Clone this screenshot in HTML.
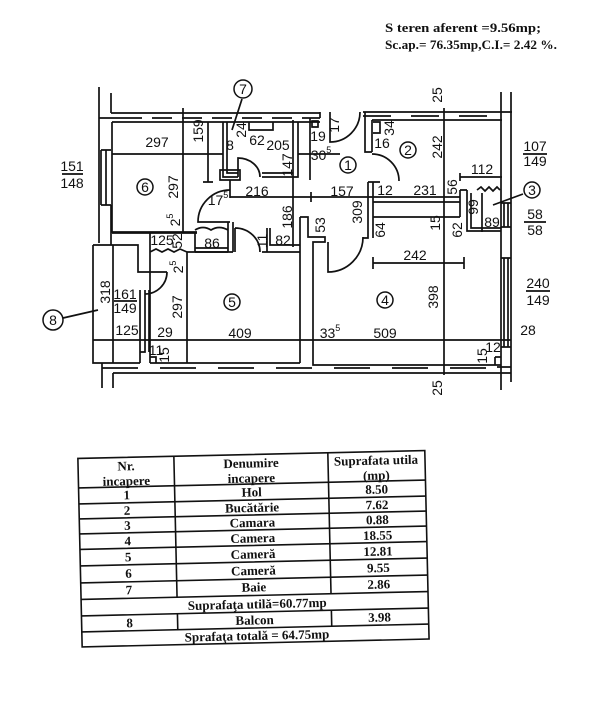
<!DOCTYPE html>
<html><head><meta charset="utf-8">
<style>
html,body{margin:0;padding:0;background:#fff;}
svg{display:block;}
.d{font-family:"Liberation Sans",sans-serif;font-size:14px;text-anchor:middle;dominant-baseline:central;fill:#111;}
.t{font-family:"Liberation Serif",serif;font-weight:bold;font-size:13px;text-anchor:middle;dominant-baseline:central;fill:#111;}
.h{font-family:"Liberation Serif",serif;font-weight:bold;font-size:12.5px;dominant-baseline:central;fill:#111;}
</style></head><body>
<svg width="613" height="720" viewBox="0 0 613 720" xmlns="http://www.w3.org/2000/svg">
<rect width="613" height="720" fill="#fff"/>
<text class="h" x="385" y="28" textLength="156" lengthAdjust="spacingAndGlyphs">S teren aferent =9.56mp;</text>
<text class="h" x="385" y="45" textLength="172" lengthAdjust="spacingAndGlyphs">Sc.ap.= 76.35mp,C.I.= 2.42 %.</text>

<g fill="none" stroke="#111" stroke-width="1.7">
<!-- left / top-left walls -->
<path d="M99,87 V243 M111,93 V113 M111,113 H320 M320,112 V118 M99,118 H122 M112,122 H320"/>
<path d="M122,118 H320" stroke-dasharray="20,10"/>
<path d="M112,122 V232 H197"/>
<path d="M101,150 H111 M101,205 H111 M101,150 V205 M106,150 V205 M111,205 V245"/>
<path d="M183,108 V232 M112,154 H223 M298,154 H340 M208,122 V182 M203,182 H213"/>
<!-- bath -->
<path d="M223,122 V177 H238 M227,122 V173 H238 M262,177 H298 V122 M262,173 H293 M293,120 V247"/>
<path d="M238,177 V158 A22 19 0 0 1 260 177"/>
<path d="M249,122 V130 H273 V122"/>
<path d="M220,170 H240 V180 H220 Z M230,180 V198"/>
<path d="M310,118 V180 M312,121 H318 V127 H312 Z"/>
<!-- entrance door -->
<path d="M330,112 V142 A30 30 0 0 0 360 112"/>
<!-- kitchen -->
<path d="M363,112 H512 M372,120 H502 M365,112 V152 H372 M372,120 V152"/>
<path d="M363,116 H502" stroke-dasharray="28,20"/>
<path d="M372,154 A27 27 0 0 1 399 181"/>
<path d="M368,182 V238 H363 M373,182 V238 M368,182 H380 M373,122 H380 V133 H373"/>
<path d="M230,197 H460 M311,192 V202"/>
<path d="M373,202 H460 M373,217 H460"/>
<!-- pantry -->
<path d="M460,190 V217 M460,190 H467 M477,190 l4,-3 l4,4 l4,-4 l4,4 l4,-4 l3,3 M467,190 V231 H501 M471,193 V228 H501 M482,193 V232 M460,177 H502 M460,173 V181"/>
<!-- right wall -->
<path d="M501,92 V390 M511,92 V382"/>
<path d="M504,203 V227 M508,203 V227 M501,203 H511 M501,227 H511 M504,258 V347 M508,258 V347 M501,258 H511 M501,347 H511"/>
<!-- room 4 -->
<path d="M300,217 H308 V237 H325 V242 H313 V365 H501 M300,217 V363"/>
<path d="M328,242 V272 A35 35 0 0 0 363 237"/>
<path d="M495,357 H501 M495,357 V365"/>
<path d="M373,263 H464 M373,257 V269 M464,257 V269 M444,108 V375"/>
<!-- room 5 / corridor -->
<path d="M112,233 H197 M150,233 V363 M150,252 l6,-3 l6,3 l6,-3 l6,3 l6,-3 l7,3 M187,252 V363 M195,233 V252"/>
<path d="M195,230 q8,-5 16,0 q8,-5 17,0 M195,248 H228 M195,252 H228 M228,222 V252 M233,222 V252"/>
<path d="M230,190 A32 32 0 0 0 198 222 H230"/>
<path d="M235,228 A25 24 0 0 1 260 252 M235,228 V252"/>
<path d="M187,252 H233 M262,252 H300 M267,228 V252 M270,228 V245 H300 M150,363 H300"/>
<!-- balcony -->
<path d="M93,245 H138 V272 H167 M93,245 V363 H140 M113,245 V363"/>
<path d="M167,272 A22 22 0 0 1 145 294"/>
<path d="M140,290 V363 M145,290 V352 H140 M149,290 V352 M150,357 H156 V363"/>
<!-- bottom -->
<path d="M113,373 H511 M102,363 V388 M113,373 V388 M93,340 H511 M497,367 H511"/>
<path d="M102,368 H501" stroke-dasharray="36,22"/>
<!-- fractions -->
<path d="M62,174 H83 M523,154 H547 M524,222 H546 M526,291 H550 M114,301 H137"/>
<!-- leaders -->
<path d="M242,99 L232,130 M523,194 L493,205 M63,318 L98,310"/>
</g>
<g fill="#fff" stroke="#111" stroke-width="1.5">
<circle cx="243" cy="89" r="9"/>
<circle cx="145" cy="187" r="8"/>
<circle cx="348" cy="165" r="8"/>
<circle cx="408" cy="150" r="8"/>
<circle cx="532" cy="190" r="8"/>
<circle cx="385" cy="300" r="8"/>
<circle cx="232" cy="302" r="8"/>
<circle cx="53" cy="320" r="10"/>
</g>
<g class="d">
<text class="d" x="243" y="89" font-size="13">7</text>
<text class="d" x="145" y="187" font-size="13">6</text>
<text class="d" x="348" y="165" font-size="13">1</text>
<text class="d" x="408" y="150" font-size="13">2</text>
<text class="d" x="532" y="190" font-size="13">3</text>
<text class="d" x="385" y="300" font-size="13">4</text>
<text class="d" x="232" y="302" font-size="13">5</text>
<text class="d" x="53" y="320" font-size="13">8</text>

<text class="d" x="157" y="142">297</text>
<text class="d" transform="translate(198,131) rotate(-90)">159</text>
<text class="d" x="230" y="145" font-size="13">8</text>
<text class="d" transform="translate(241,130) rotate(-90)" font-size="9">24</text>
<text class="d" x="257" y="140" font-size="10">62</text>
<text class="d" x="278" y="145" font-size="12">205</text>
<text class="d" transform="translate(287,165) rotate(-90)" font-size="12">147</text>
<text class="d" x="318" y="136" font-size="10">19</text>
<text class="d" x="321" y="155">30<tspan dy="-5" font-size="9">5</tspan></text>
<text class="d" transform="translate(334,125) rotate(-90)" font-size="9">17</text>
<text class="d" x="257" y="191">216</text>
<text class="d" x="342" y="191">157</text>
<text class="d" x="218" y="200">17<tspan dy="-5" font-size="9">5</tspan></text>
<text class="d" transform="translate(287,217) rotate(-90)">186</text>
<text class="d" transform="translate(173,187) rotate(-90)">297</text>
<text class="d" transform="translate(175,220) rotate(-90)">2<tspan dy="-5" font-size="9">5</tspan></text>
<text class="d" x="162" y="240" font-size="11">125</text>
<text class="d" transform="translate(177,241) rotate(-90)" font-size="11">52</text>
<text class="d" x="212" y="243" font-size="13">86</text>
<text class="d" x="283" y="240" font-size="13">82</text>
<text class="d" transform="translate(262,241) rotate(-90)" font-size="8">11</text>
<text class="d" transform="translate(320,225) rotate(-90)" font-size="13">53</text>
<text class="d" transform="translate(357,212) rotate(-90)">309</text>
<text class="d" transform="translate(380,230) rotate(-90)" font-size="13">64</text>
<text class="d" transform="translate(435,223) rotate(-90)" font-size="13">15</text>
<text class="d" transform="translate(457,230) rotate(-90)" font-size="13">62</text>
<text class="d" x="385" y="190" font-size="13">12</text>
<text class="d" x="425" y="190">231</text>
<text class="d" transform="translate(452,187) rotate(-90)" font-size="13">56</text>
<text class="d" x="382" y="143" font-size="10">16</text>
<text class="d" transform="translate(389,128) rotate(-90)" font-size="10">34</text>
<text class="d" transform="translate(437,147) rotate(-90)">242</text>
<text class="d" x="482" y="169" font-size="12">112</text>
<text class="d" transform="translate(473,207) rotate(-90)" font-size="12">99</text>
<text class="d" x="492" y="222" font-size="12">89</text>
<text class="d" x="535" y="146">107</text>
<text class="d" x="535" y="161">149</text>
<text class="d" x="535" y="214">58</text>
<text class="d" x="535" y="230">58</text>
<text class="d" x="415" y="255">242</text>
<text class="d" transform="translate(433,297) rotate(-90)">398</text>
<text class="d" x="538" y="283">240</text>
<text class="d" x="538" y="300">149</text>
<text class="d" x="528" y="330">28</text>
<text class="d" x="330" y="333">33<tspan dy="-5" font-size="9">5</tspan></text>
<text class="d" x="385" y="333">509</text>
<text class="d" transform="translate(482,356) rotate(-90)" font-size="8">15</text>
<text class="d" x="493" y="347" font-size="8">12</text>
<text class="d" transform="translate(437,388) rotate(-90)">25</text>
<text class="d" transform="translate(437,95) rotate(-90)">25</text>
<text class="d" transform="translate(105,292) rotate(-90)">318</text>
<text class="d" x="125" y="294">161</text>
<text class="d" x="125" y="308">149</text>
<text class="d" x="127" y="330">125</text>
<text class="d" x="165" y="332">29</text>
<text class="d" transform="translate(177,307) rotate(-90)">297</text>
<text class="d" transform="translate(178,267) rotate(-90)">2<tspan dy="-5" font-size="9">5</tspan></text>
<text class="d" x="240" y="333">409</text>
<text class="d" x="156" y="350" font-size="8">11</text>
<text class="d" transform="translate(164,355) rotate(-90)" font-size="8">15</text>
<text class="d" x="72" y="166">151</text>
<text class="d" x="72" y="183">148</text>
</g>

<!-- table -->
<g transform="rotate(-1.3 253 550)">
<g fill="none" stroke="#111" stroke-width="1.6">
<rect x="80" y="454.5" width="347" height="188.5"/>
<path d="M80,484 H427 M80,500 H427 M80,515 H427 M80,530 H427 M80,545.5 H427 M80,562 H427 M80,579 H427 M80,595.5 H427 M80,612 H427 M80,628 H427"/>
<path d="M176,454.5 V595.5 M330,454.5 V595.5 M176,612 V628 M330,612 V628"/>
</g>
<text class="t" x="128" y="463">Nr.</text>
<text class="t" x="128" y="478">incapere</text>
<text class="t" x="253" y="463">Denumire</text>
<text class="t" x="253" y="478">incapere</text>
<text class="t" x="378" y="463">Suprafata utila</text>
<text class="t" x="378" y="478">(mp)</text>
<text class="t" x="128" y="492">1</text><text class="t" x="253" y="492">Hol</text><text class="t" x="378" y="492">8.50</text>
<text class="t" x="128" y="507.5">2</text><text class="t" x="253" y="507.5">Bucătărie</text><text class="t" x="378" y="507.5">7.62</text>
<text class="t" x="128" y="522.5">3</text><text class="t" x="253" y="522.5">Camara</text><text class="t" x="378" y="522.5">0.88</text>
<text class="t" x="128" y="538">4</text><text class="t" x="253" y="538">Camera</text><text class="t" x="378" y="538">18.55</text>
<text class="t" x="128" y="554">5</text><text class="t" x="253" y="554">Cameră</text><text class="t" x="378" y="554">12.81</text>
<text class="t" x="128" y="570.5">6</text><text class="t" x="253" y="570.5">Cameră</text><text class="t" x="378" y="570.5">9.55</text>
<text class="t" x="128" y="587">7</text><text class="t" x="253" y="587">Baie</text><text class="t" x="378" y="587">2.86</text>
<text class="t" x="256" y="604">Suprafaţa utilă=60.77mp</text>
<text class="t" x="128" y="620">8</text><text class="t" x="253" y="620">Balcon</text><text class="t" x="378" y="620">3.98</text>
<text class="t" x="255" y="635.5">Sprafaţa  totală = 64.75mp</text>
</g>
</svg>
</body></html>
